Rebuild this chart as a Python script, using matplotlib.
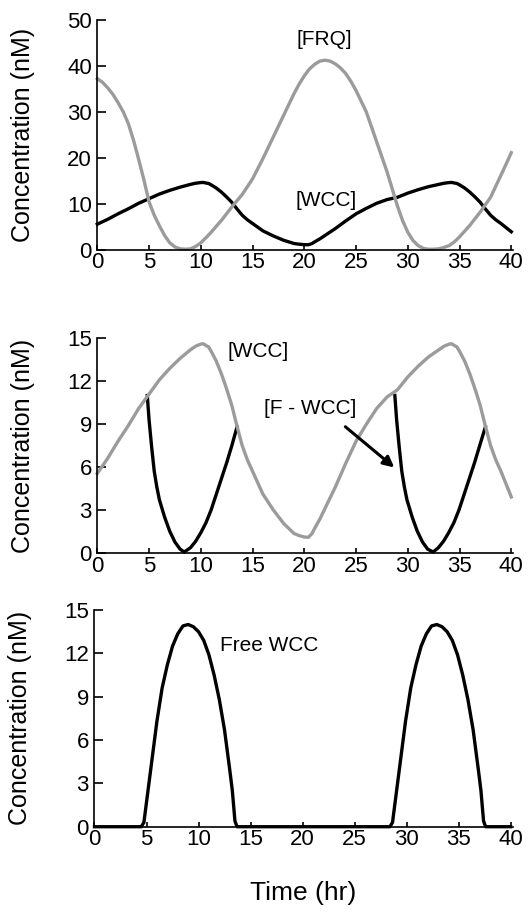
import numpy as np
import matplotlib
matplotlib.use('Agg')
import matplotlib.pyplot as plt

plt.rcParams['font.family'] = ['Liberation Sans', 'DejaVu Sans']

# [FRQ] (top panel, grey)
frq_t = [0, 0.5, 1, 1.5, 2, 2.5, 3, 3.5, 4, 4.5, 5, 5.5, 6, 6.5, 7, 7.5, 8, 8.5, 9,
         9.5, 10, 10.5, 11, 12, 13, 14, 15, 16, 17, 18, 19, 19.5, 20, 20.5, 21, 21.5,
         22, 22.5, 23, 23.5, 24, 24.5, 25, 26, 27, 28, 29, 29.5, 30, 30.5, 31, 31.5,
         32, 32.5, 33, 33.5, 34, 34.5, 35, 36, 37, 38, 39, 39.5, 40]
frq_c = [37.2, 36.4, 35.2, 33.8, 32.0, 30.0, 27.4, 23.8, 19.6, 15.2, 10.4, 7.5, 5.2,
         3.1, 1.5, 0.6, 0.2, 0.1, 0.2, 0.7, 1.5, 2.6, 3.8, 6.4, 9.3, 12.0, 15.4, 19.8,
         24.5, 29.2, 33.9, 36.0, 37.8, 39.3, 40.3, 41.0, 41.2, 41.0, 40.4, 39.5, 38.3,
         36.6, 34.6, 29.9, 23.4, 16.9, 9.5, 6.3, 3.8, 2.0, 0.9, 0.3, 0.1, 0.1, 0.2, 0.5,
         0.9, 1.7, 2.8, 5.3, 8.2, 11.4, 16.2, 18.6, 21.1]

# [WCC] total (black in top panel, grey in middle panel)
wcc_t = [0, 1, 2, 3, 4, 5, 6, 7, 8, 9, 9.5, 10, 10.25, 10.5, 10.75, 11, 11.5, 12, 12.5,
         13, 13.5, 14, 14.5, 15, 16, 17, 18, 19, 19.5, 20, 20.4, 20.75, 21, 21.5, 22, 23,
         24, 25, 26, 27, 28, 29, 30, 31, 32, 33, 33.5, 34, 34.25, 34.5, 34.75, 35, 35.5,
         36, 36.5, 37, 37.5, 38, 38.5, 39, 39.5, 40]
wcc_c = [5.55, 6.6, 7.8, 8.9, 10.1, 11.1, 12.1, 12.9, 13.6, 14.2, 14.45, 14.6, 14.62,
         14.5, 14.4, 14.1, 13.4, 12.5, 11.45, 10.3, 8.85, 7.5, 6.5, 5.7, 4.1, 3.0, 2.05,
         1.35, 1.2, 1.1, 1.08, 1.35, 1.7, 2.35, 3.1, 4.6, 6.25, 7.8, 9.0, 10.1, 10.9,
         11.4, 12.3, 13.05, 13.7, 14.2, 14.45, 14.6, 14.62, 14.5, 14.4, 14.1, 13.4, 12.5,
         11.45, 10.3, 8.85, 7.5, 6.5, 5.7, 4.8, 3.9]

# [F - WCC] complex (middle panel, black; only where it differs from [WCC])
fwcc1_t = [4.83, 5.0, 5.25, 5.5, 5.75, 6.0, 6.5, 7.0, 7.5, 8.0, 8.4, 9.0, 9.5, 10.0,
           10.5, 11.0, 11.5, 12.0, 12.5, 13.0, 13.5]
fwcc1_c = [11.0, 9.3, 7.4, 5.7, 4.6, 3.7, 2.5, 1.5, 0.75, 0.25, 0.05, 0.35, 0.8, 1.4,
           2.1, 3.0, 4.1, 5.2, 6.3, 7.5, 8.8]
fwcc2_t = [28.75, 28.92, 29.17, 29.42, 29.67, 29.92, 30.42, 30.92, 31.42, 31.92, 32.45,
           32.95, 33.45, 33.95, 34.45, 34.95, 35.45, 35.95, 36.45, 36.95, 37.5]
fwcc2_c = [11.0, 9.3, 7.4, 5.7, 4.6, 3.7, 2.5, 1.5, 0.75, 0.25, 0.05, 0.35, 0.8, 1.4,
           2.1, 3.0, 4.1, 5.2, 6.3, 7.5, 8.8]

# Free WCC (bottom panel)
free_t = [0, 4.5, 4.75, 5.0, 5.25, 5.5, 5.75, 6.0, 6.5, 7.0, 7.5, 8.0, 8.5, 9.0, 9.5,
          10.0, 10.5, 11.0, 11.5, 12.0, 12.5, 13.0, 13.25, 13.5, 13.7,
          28.4, 28.65, 28.9, 29.15, 29.4, 29.65, 29.9, 30.4, 30.9, 31.4, 31.9, 32.4,
          32.9, 33.4, 33.9, 34.4, 34.9, 35.4, 35.9, 36.4, 36.9, 37.15, 37.4, 37.6, 40]
free_c = [0, 0, 0.3, 1.7, 3.1, 4.5, 5.9, 7.3, 9.6, 11.2, 12.5, 13.35, 13.9, 14.0, 13.85,
          13.5, 12.9, 11.9, 10.5, 8.8, 6.7, 3.95, 2.5, 0.4, 0,
          0, 0.3, 1.7, 3.1, 4.5, 5.9, 7.3, 9.6, 11.2, 12.5, 13.35, 13.9, 14.0, 13.85,
          13.5, 12.9, 11.9, 10.5, 8.8, 6.7, 3.95, 2.5, 0.4, 0, 0]

x_ticks = [0, 5, 10, 15, 20, 25, 30, 35, 40]
grey = '#9b9b9b'
lw = 2.4

fig = plt.figure(figsize=(5.3, 9.13), dpi=100)
ax1 = fig.add_axes([0.1836, 0.7265, 0.785, 0.2519])
ax2 = fig.add_axes([0.1836, 0.3946, 0.785, 0.2348])
ax3 = fig.add_axes([0.1783, 0.0945, 0.789, 0.2373])


def style(ax, ymax, ystep):
    ax.set_xlim(0, 40.2)
    ax.set_ylim(0, ymax)
    ax.set_xticks(x_ticks)
    ax.set_yticks(np.arange(0, ymax + 1, ystep))
    for s in ['top', 'right']:
        ax.spines[s].set_visible(False)
    for s in ['left', 'bottom']:
        ax.spines[s].set_linewidth(1.2)
    ax.tick_params(axis='y', direction='in', length=6.5, width=1.2, labelsize=16, pad=4)
    ax.tick_params(axis='x', direction='in', length=3.6, width=1.2, labelsize=16, pad=2)
    ax.set_ylabel('Concentration (nM)', fontsize=18)
    ax.yaxis.set_label_coords(-0.15, 0.5)


# top panel
ax1.plot(wcc_t, wcc_c, color='black', lw=lw, clip_on=False)
ax1.plot(frq_t, frq_c, color=grey, lw=lw, clip_on=False)
style(ax1, 50, 10)
ax1.text(21.9, 45.6, '[FRQ]', ha='center', va='center', fontsize=15)
ax1.text(22.1, 10.8, '[WCC]', ha='center', va='center', fontsize=15)

# middle panel
ax2.plot(fwcc1_t, fwcc1_c, color='black', lw=lw, clip_on=False)
ax2.plot(fwcc2_t, fwcc2_c, color='black', lw=lw, clip_on=False)
ax2.plot(wcc_t, wcc_c, color=grey, lw=lw, clip_on=False)
style(ax2, 15, 3)
ax2.text(15.5, 14.1, '[WCC]', ha='center', va='center', fontsize=15)
ax2.text(20.6, 10.06, '[F - WCC]', ha='center', va='center', fontsize=15)
ax2.annotate('', xy=(28.9, 5.84), xytext=(23.76, 8.94),
             arrowprops=dict(arrowstyle='-|>', color='black', lw=2.2, mutation_scale=16))

# bottom panel
ax3.plot(free_t, free_c, color='black', lw=lw, clip_on=False)
style(ax3, 15, 3)
ax3.text(16.75, 12.55, 'Free WCC', ha='center', va='center', fontsize=15)
ax3.set_xlabel('Time (hr)', fontsize=19, labelpad=22)

plt.savefig('out.png', dpi=100)
